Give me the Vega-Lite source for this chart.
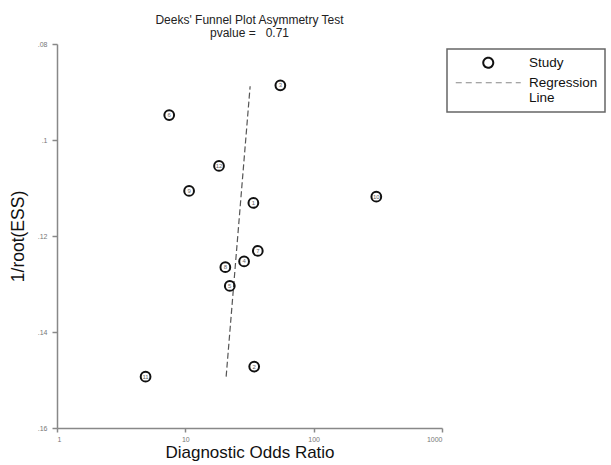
{
  "$schema": "https://vega.github.io/schema/vega-lite/v6.json",
  "width": 385,
  "height": 384,
  "autosize": "none",
  "padding": {"left": 57, "top": 44, "right": 169, "bottom": 37},
  "background": "white",
  "config": {
    "view": {"stroke": null},
    "font": "Liberation Sans",
    "legend": {"strokeWidth": 1.5},
    "axis": {
      "grid": false,
      "domainColor": "#888",
      "domainWidth": 1.5,
      "tickColor": "#888",
      "tickWidth": 1.5,
      "tickSize": 5,
      "labelFontSize": 7,
      "labelColor": "#777",
      "labelFont": "Liberation Sans",
      "titleFont": "Liberation Sans",
      "titleFontSize": 17.5,
      "titleFontWeight": "normal",
      "titleColor": "#111"
    }
  },
  "title": {
    "text": ["Deeks' Funnel Plot Asymmetry Test", "pvalue =\u00a0\u00a0\u00a00.71"],
    "fontSize": 12,
    "fontWeight": "normal",
    "font": "Liberation Sans",
    "color": "#222",
    "lineHeight": 13,
    "anchor": "middle",
    "offset": 0
  },
  "datasets": {
    "studies": [
      {"study": "1", "dor": 33.9, "ess": 0.1131, "series": "Study"},
      {"study": "2", "dor": 34.4, "ess": 0.1472, "series": "Study"},
      {"study": "3", "dor": 55.0, "ess": 0.0886, "series": "Study"},
      {"study": "4", "dor": 28.7, "ess": 0.1253, "series": "Study"},
      {"study": "5", "dor": 22.2, "ess": 0.1304, "series": "Study"},
      {"study": "6", "dor": 7.49, "ess": 0.0948, "series": "Study"},
      {"study": "7", "dor": 36.7, "ess": 0.1231, "series": "Study"},
      {"study": "8", "dor": 20.5, "ess": 0.1265, "series": "Study"},
      {"study": "9", "dor": 10.7, "ess": 0.1106, "series": "Study"},
      {"study": "10", "dor": 307.7, "ess": 0.1118, "series": "Study"},
      {"study": "11", "dor": 4.90, "ess": 0.1493, "series": "Study"},
      {"study": "12", "dor": 18.3, "ess": 0.1054, "series": "Study"}
    ],
    "regression": [
      {"dor": 31.98, "ess": 0.0888},
      {"dor": 20.8, "ess": 0.1493}
    ]
  },
  "layer": [
    {
      "data": {"name": "regression"},
      "mark": {"type": "line", "color": "#555", "strokeWidth": 1.2, "strokeDash": [6, 3]},
      "encoding": {
        "x": {"field": "dor", "type": "quantitative"},
        "y": {"field": "ess", "type": "quantitative"}
      }
    },
    {
      "data": {"name": "studies"},
      "mark": {"type": "point", "filled": false, "size": 95, "stroke": "#111", "strokeWidth": 2, "opacity": 1},
      "encoding": {
        "x": {
          "field": "dor", "type": "quantitative",
          "scale": {"type": "log", "domain": [1, 1000], "nice": false},
          "axis": {"values": [1, 10, 100, 1000], "format": "d", "title": "Diagnostic Odds Ratio", "titleFontSize": 17, "labelPadding": 3, "titlePadding": 2, "tickSize": 4}
        },
        "y": {
          "field": "ess", "type": "quantitative",
          "scale": {"domain": [0.08, 0.16], "reverse": true, "zero": false, "nice": false},
          "axis": {"values": [0.08, 0.1, 0.12, 0.14, 0.16], "labelExpr": "replace(format(datum.value, '.2~f'), '0.', '.')", "title": "1/root(ESS)", "labelPadding": 5, "titlePadding": 10}
        },
        "shape": {
          "field": "series", "type": "nominal",
          "scale": {"domain": ["Study", "Regression Line"], "range": ["circle", "M-6.5,0L6.5,0"]},
          "legend": {
            "title": null,
            "orient": "none",
            "legendX": 390,
            "legendY": 5,
            "strokeColor": "#666",
            "padding": 7,
            "symbolSize": 100,
            "symbolOffset": 27.5,
            "symbolFillColor": "transparent",
            "symbolStrokeColor": {"expr": "datum.value == 'Regression Line' ? '#888' : '#111'"},
            "symbolStrokeWidth": {"expr": "datum.value == 'Regression Line' ? 1.2 : 2"},
            "symbolDash": {"expr": "datum.value == 'Regression Line' ? [6, 4] : [1, 0]"},
            "labelFont": "Liberation Sans",
            "labelFontSize": 13.5,
            "labelColor": "#111",
            "labelOffset": 34,
            "labelLimit": 200,
            "rowPadding": 3,
            "labelExpr": "datum.label == 'Regression Line' ? ['Regression', 'Line'] : datum.label"
          }
        }
      }
    },
    {
      "data": {"name": "studies"},
      "mark": {"type": "text", "fontSize": 6, "color": "#666", "font": "Liberation Sans", "baseline": "middle", "align": "center"},
      "encoding": {
        "x": {"field": "dor", "type": "quantitative"},
        "y": {"field": "ess", "type": "quantitative"},
        "text": {"field": "study"}
      }
    }
  ]
}
